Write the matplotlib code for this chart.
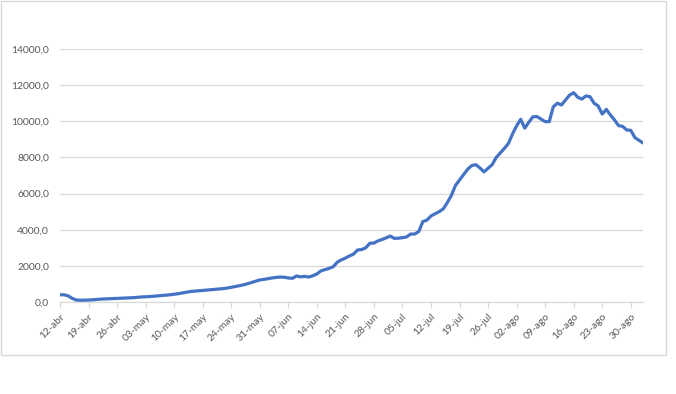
import matplotlib
matplotlib.use("Agg")
import matplotlib.pyplot as plt
from matplotlib.patches import Rectangle
import numpy as np

# Daily values starting 12-abr (one value per day)
values = [
    400, 400, 340, 200, 110, 100, 100, 110, 120, 140,
    160, 170, 180, 190, 200, 210, 220, 230, 240, 260,
    280, 290, 300, 320, 340, 360, 380, 400, 430, 460,
    500, 540, 580, 600, 620, 640, 660, 680, 700, 720,
    740, 770, 810, 860, 900, 950, 1010, 1080, 1150, 1220,
    1250, 1290, 1330, 1360, 1380, 1370, 1330, 1310, 1440, 1390,
    1420, 1380, 1450, 1550, 1720, 1790, 1860, 1950, 2200, 2330,
    2430, 2550, 2650, 2880, 2900, 3000, 3250, 3260, 3380, 3460,
    3550, 3650, 3520, 3530, 3560, 3600, 3760, 3760, 3900, 4450,
    4530, 4760, 4880, 5000, 5150, 5500, 5900, 6450, 6750, 7050,
    7350, 7550, 7600, 7420, 7200, 7400, 7600, 8000, 8250, 8500,
    8780, 9300, 9750, 10110, 9620, 9950, 10250, 10260, 10120, 9980,
    9980, 10800, 11000, 10900, 11180, 11450, 11580, 11330, 11230, 11400,
    11360, 11000, 10850, 10400, 10660, 10350, 10080, 9760, 9720, 9520,
    9500, 9100, 8950, 8800,
]

x_tick_labels = [
    "12-abr", "19-abr", "26-abr", "03-may", "10-may", "17-may", "24-may",
    "31-may", "07-jun", "14-jun", "21-jun", "28-jun", "05-jul", "12-jul",
    "19-jul", "26-jul", "02-ago", "09-ago", "16-ago", "23-ago", "30-ago",
]
y_ticks = [0, 2000, 4000, 6000, 8000, 10000, 12000, 14000]
y_tick_labels = ["0,0", "2000,0", "4000,0", "6000,0", "8000,0",
                 "10000,0", "12000,0", "14000,0"]

plt.rcParams["font.family"] = ["Lato", "DejaVu Sans"]

fig = plt.figure(figsize=(6.76, 3.94), dpi=100)
fig.patch.set_facecolor("white")

# chart border
fig.patches.append(Rectangle((0.001, 1 - 355 / 394), 665 / 676, 355 / 394 - 0.002,
                             transform=fig.transFigure, fill=False,
                             edgecolor="#D9D9D9", linewidth=1.0))

ax = fig.add_axes([60 / 676, 1 - 302 / 394, (643 - 60) / 676, (302 - 49) / 394])

xs = np.arange(len(values))
ax.plot(xs, values, color="#4472C4", linewidth=2.3, solid_joinstyle="round",
        solid_capstyle="round", zorder=3)

ax.set_xlim(0, len(values) - 1)
ax.set_ylim(0, 14000)

ax.set_yticks(y_ticks)
ax.set_yticklabels(y_tick_labels)
ax.set_xticks(np.arange(len(x_tick_labels)) * 7)
ax.set_xticklabels(x_tick_labels, rotation=45, ha="right", rotation_mode="anchor")

ax.grid(axis="y", color="#D9D9D9", linewidth=0.9)
ax.set_axisbelow(True)
for s in ["top", "right", "left"]:
    ax.spines[s].set_visible(False)
ax.spines["bottom"].set_color("#D9D9D9")
ax.spines["bottom"].set_linewidth(0.9)

ax.tick_params(axis="y", length=0, pad=8, labelsize=7.5, labelcolor="#595959")
ax.tick_params(axis="x", length=4, width=0.8, color="#D9D9D9", pad=3,
               labelsize=7.5, labelcolor="#595959")

fig.savefig("out.png", dpi=100, facecolor="white")
